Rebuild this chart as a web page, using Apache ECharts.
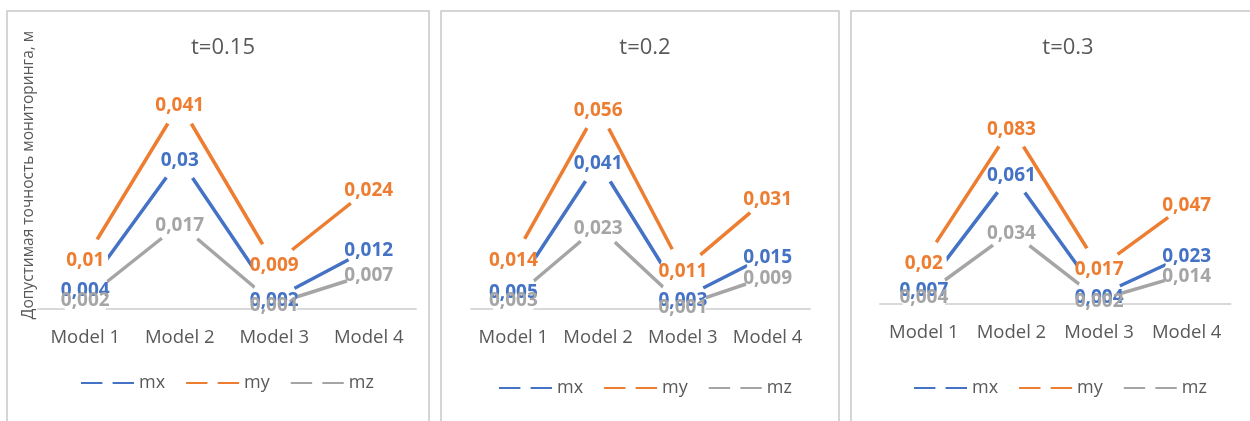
<!DOCTYPE html>
<html>
<head>
<meta charset="utf-8">
<script src="https://cdn.jsdelivr.net/npm/echarts@6/dist/echarts.min.js"></script>
<style>
  html, body { margin: 0; padding: 0; background: #ffffff; }
  #chart { width: 1250px; height: 421px; }
</style>
</head>
<body>
<div id="chart"></div>
<script>
// Categories and panel captions
const categories = ['Model 1', 'Model 2', 'Model 3', 'Model 4'];
const panelTitles = ['t=0.15', 't=0.2', 't=0.3'];
const seriesNames = ['mx', 'my', 'mz'];
const yAxisTitle = 'Допустимая точность мониторинга, м';

// t = 0.15
const mx_t015 = [0.004, 0.03, 0.002, 0.012];
const my_t015 = [0.01, 0.041, 0.009, 0.024];
const mz_t015 = [0.002, 0.017, 0.001, 0.007];

// t = 0.2
const mx_t02 = [0.005, 0.041, 0.003, 0.015];
const my_t02 = [0.014, 0.056, 0.011, 0.031];
const mz_t02 = [0.003, 0.023, 0.001, 0.009];

// t = 0.3
const mx_t03 = [0.007, 0.061, 0.004, 0.023];
const my_t03 = [0.02, 0.083, 0.017, 0.047];
const mz_t03 = [0.004, 0.034, 0.002, 0.014];

const panelData = [
  [mx_t015, my_t015, mz_t015],
  [mx_t02, my_t02, mz_t02],
  [mx_t03, my_t03, mz_t03]
];

// Layout of the three panels (pixels)
const panels = [
  { box: [7, 11, 422, 430],  grid: { left: 38,  top: 59, width: 378,   height: 250 }, yMax: 0.05, titleX: 218,  legendX: 75,  legendTop: 369 },
  { box: [441, 11, 398, 430], grid: { left: 471, top: 58, width: 339,   height: 251 }, yMax: 0.07, titleX: 640,  legendX: 493, legendTop: 374 },
  { box: [851, 11, 430, 430], grid: { left: 880, top: 91, width: 350.5, height: 213 }, yMax: 0.10, titleX: 1063, legendX: 908, legendTop: 374 }
];

const colors = ['#4472C4', '#ED7D31', '#A5A5A5'];
const textGray = '#595959';
const fontFamily = '"Open Sans", "Noto Sans", sans-serif';

const fmt = v => String(v).replace('.', ',');

const option = {
  animation: false,
  backgroundColor: '#ffffff',
  title: [],
  legend: [],
  grid: [],
  xAxis: [],
  yAxis: [],
  series: [],
  graphic: []
};

panels.forEach((p, pi) => {
  option.graphic.push({
    type: 'rect',
    silent: true,
    shape: { x: p.box[0], y: p.box[1], width: p.box[2], height: p.box[3] },
    style: { fill: 'none', stroke: '#c8c8c8', lineWidth: 1.5 },
    z: -1
  });

  option.title.push({
    text: panelTitles[pi],
    left: p.titleX,
    top: 32,
    textAlign: 'center',
    textStyle: { fontFamily, fontSize: 22, fontWeight: 'normal', color: textGray }
  });

  option.legend.push({
    left: p.legendX,
    top: p.legendTop,
    itemWidth: 53,
    itemHeight: 13,
    itemGap: 20,
    selectedMode: false,
    data: seriesNames,
    textStyle: { fontFamily, fontSize: 18, color: textGray }
  });

  option.grid.push(Object.assign({ containLabel: false }, p.grid));

  option.xAxis.push({
    type: 'category',
    gridIndex: pi,
    data: categories,
    boundaryGap: true,
    axisLine: { show: true, lineStyle: { color: '#d9d9d9', width: 2 } },
    axisTick: { show: false },
    splitLine: { show: false },
    axisLabel: { margin: 19, fontFamily, fontSize: 18.5, color: textGray, interval: 0 }
  });

  option.yAxis.push({
    type: 'value',
    gridIndex: pi,
    min: 0,
    max: p.yMax,
    show: false,
    splitLine: { show: false }
  });

  // Lines with large white markers (they break the lines around each point)
  panelData[pi].forEach((values, si) => {
    option.series.push({
      name: seriesNames[si],
      type: 'line',
      xAxisIndex: pi,
      yAxisIndex: pi,
      data: values,
      symbol: 'circle',
      symbolSize: 46,
      showSymbol: true,
      showAllSymbol: true,
      clip: false,
      silent: true,
      itemStyle: { color: '#ffffff', borderWidth: 0 },
      lineStyle: { color: colors[si], width: 3.5 },
      label: { show: false },
      z: 2
    });
  });

  // Value labels drawn above every line and marker
  panelData[pi].forEach((values, si) => {
    option.series.push({
      name: seriesNames[si],
      type: 'line',
      xAxisIndex: pi,
      yAxisIndex: pi,
      data: values,
      symbol: 'circle',
      symbolSize: 1,
      showSymbol: true,
      showAllSymbol: true,
      silent: true,
      itemStyle: { color: 'rgba(0,0,0,0)' },
      lineStyle: { width: 0, opacity: 0 },
      label: {
        show: true,
        position: 'inside',
        offset: [0, 2],
        formatter: d => fmt(d.value),
        fontFamily,
        fontSize: 19,
        fontWeight: 'bold',
        color: colors[si]
      },
      z: 10
    });
  });
});

option.graphic.push({
  type: 'text',
  silent: true,
  x: 29,
  y: 175,
  rotation: Math.PI / 2,
  style: {
    text: yAxisTitle,
    fontFamily,
    fontSize: 15.5,
    fill: textGray,
    align: 'center',
    verticalAlign: 'middle'
  }
});

const chart = echarts.init(document.getElementById('chart'), null, { renderer: 'canvas' });
chart.setOption(option);
</script>
</body>
</html>
